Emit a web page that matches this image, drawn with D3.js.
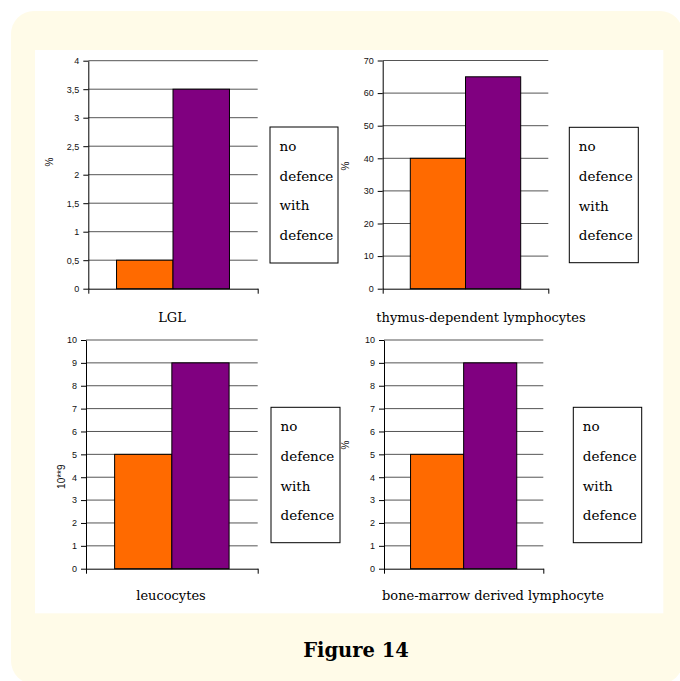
<!DOCTYPE html>
<html>
<head>
<meta charset="utf-8">
<script src="https://cdn.jsdelivr.net/npm/d3@7"></script>
<style>
  body { margin: 0; background: #fff; }
  svg { display: block; }
</style>
</head>
<body>
<div id="chart"></div>
<script>
// values
const categories = ["LGL", "thymus-dependent lymphocytes", "leucocytes", "bone-marrow derived lymphocyte"]
const series = ["no defence", "with defence"]
const noDefence = [0.5, 40, 5, 5]
const withDefence = [3.5, 65, 9, 9]
const yMax = [4, 70, 10, 10]
const yStep = [0.5, 10, 1, 1]
const yTitles = ["%", "%", "10**9", "%"]
const colors = ["#ff6a00", "#800080"]

// where each small chart sits on the page
const layout = [
  { x0: 88.3, x1: 257.7, top: 60.7, bottom: 288.7, legend: [270, 127, 68, 136], yTitle: [49, 162], label: [172, 317] },
  { x0: 382.7, x1: 548.3, top: 60.5, bottom: 288.7, legend: [569.3, 127.3, 69, 135.4], yTitle: [345, 166], label: [481, 317] },
  { x0: 86, x1: 257.7, top: 340, bottom: 568.7, legend: [271, 407.3, 69, 135.4], yTitle: [61.7, 476.7], label: [171, 595] },
  { x0: 384, x1: 543.3, top: 340, bottom: 568.7, legend: [573.3, 407.3, 68.4, 135.4], yTitle: [345, 445], label: [493, 595] }
]

const svg = d3.select("#chart")
  .append("svg")
  .attr("width", 680)
  .attr("height", 681)

// cream frame and white plate
svg.append("rect")
  .attr("x", 11).attr("y", 11)
  .attr("width", 672).attr("height", 673)
  .attr("rx", 23)
  .attr("fill", "#fffbe8")

svg.append("rect")
  .attr("x", 35).attr("y", 50)
  .attr("width", 628.3).attr("height", 563.3)
  .attr("fill", "#fff")

categories.forEach((cat, i) => {
  const L = layout[i]
  const g = svg.append("g")

  const y = d3.scaleLinear()
    .domain([0, yMax[i]])
    .range([L.bottom, L.top])

  const ticks = d3.range(0, yMax[i] + yStep[i] / 2, yStep[i])

  // band for the one category, then split into the two series
  const x = d3.scaleBand()
    .domain([cat])
    .range([L.x0, L.x1])
    .paddingInner(0)
    .paddingOuter(0.25)

  const xs = d3.scaleBand()
    .domain(series)
    .range([0, x.bandwidth()])

  // horizontal grid
  g.append("g")
    .selectAll("line")
    .data(ticks.slice(1))
    .join("line")
    .attr("x1", L.x0)
    .attr("x2", L.x1)
    .attr("y1", d => y(d))
    .attr("y2", d => y(d))
    .attr("stroke", "#555")
    .attr("stroke-width", 1)

  // bars
  const vals = [noDefence[i], withDefence[i]]
  g.append("g")
    .selectAll("rect")
    .data(series)
    .join("rect")
    .attr("x", s => x(cat) + xs(s))
    .attr("y", (s, j) => y(vals[j]))
    .attr("width", xs.bandwidth())
    .attr("height", (s, j) => y(0) - y(vals[j]))
    .attr("fill", (s, j) => colors[j])
    .attr("stroke", "#000")
    .attr("stroke-width", 1)

  // y axis
  const yAxis = g.append("g")
    .attr("transform", `translate(${L.x0},0)`)
    .call(d3.axisLeft(y)
      .tickValues(ticks)
      .tickSize(5)
      .tickSizeOuter(0)
      .tickPadding(4)
      .tickFormat(d => String(+d.toFixed(2)).replace(".", ",")))
  yAxis.select(".domain").attr("stroke", "#000")
  yAxis.selectAll(".tick line").attr("stroke", "#000")
  yAxis.selectAll("text")
    .attr("font-family", "Liberation Sans, Arial, sans-serif")
    .attr("font-size", "9px")
    .attr("fill", "#111")

  // x axis with end ticks only
  const xEdge = d3.scaleLinear().domain([0, 1]).range([L.x0, L.x1])
  const xAxis = g.append("g")
    .attr("transform", `translate(0,${L.bottom})`)
    .call(d3.axisBottom(xEdge).tickValues([0, 1]).tickSize(5).tickSizeOuter(0).tickFormat(""))
  xAxis.select(".domain").attr("stroke", "#000")
  xAxis.selectAll(".tick line").attr("stroke", "#000")

  // y title
  g.append("text")
    .attr("transform", `translate(${L.yTitle[0]},${L.yTitle[1]}) rotate(-90)`)
    .attr("text-anchor", "middle")
    .attr("dy", "0.35em")
    .attr("font-family", "Liberation Sans, Arial, sans-serif")
    .attr("font-size", "10px")
    .attr("fill", "#111")
    .text(yTitles[i])

  // category label
  g.append("text")
    .attr("x", L.label[0])
    .attr("y", L.label[1])
    .attr("dy", "0.35em")
    .attr("text-anchor", "middle")
    .attr("font-family", "DejaVu Serif, serif")
    .attr("font-size", "13px")
    .attr("fill", "#000")
    .text(cat)

  // legend (words wrap in the original box, no swatches)
  const [lx, ly, lw, lh] = L.legend
  g.append("rect")
    .attr("x", lx).attr("y", ly)
    .attr("width", lw).attr("height", lh)
    .attr("fill", "#fff")
    .attr("stroke", "#000")
    .attr("stroke-width", 1)

  const words = series.flatMap(s => s.split(" "))
  g.append("g")
    .selectAll("text")
    .data(words)
    .join("text")
    .attr("x", lx + 9.5)
    .attr("y", (d, k) => ly + 19 + k * 29.8)
    .attr("dy", "0.35em")
    .attr("font-family", "DejaVu Serif, serif")
    .attr("font-size", "13.5px")
    .attr("fill", "#000")
    .text(d => d)
})

svg.append("text")
  .attr("x", 356)
  .attr("y", 657)
  .attr("text-anchor", "middle")
  .attr("font-family", "DejaVu Serif, serif")
  .attr("font-weight", "bold")
  .attr("font-size", "19.5px")
  .attr("fill", "#000")
  .text("Figure 14")
</script>
</body>
</html>
